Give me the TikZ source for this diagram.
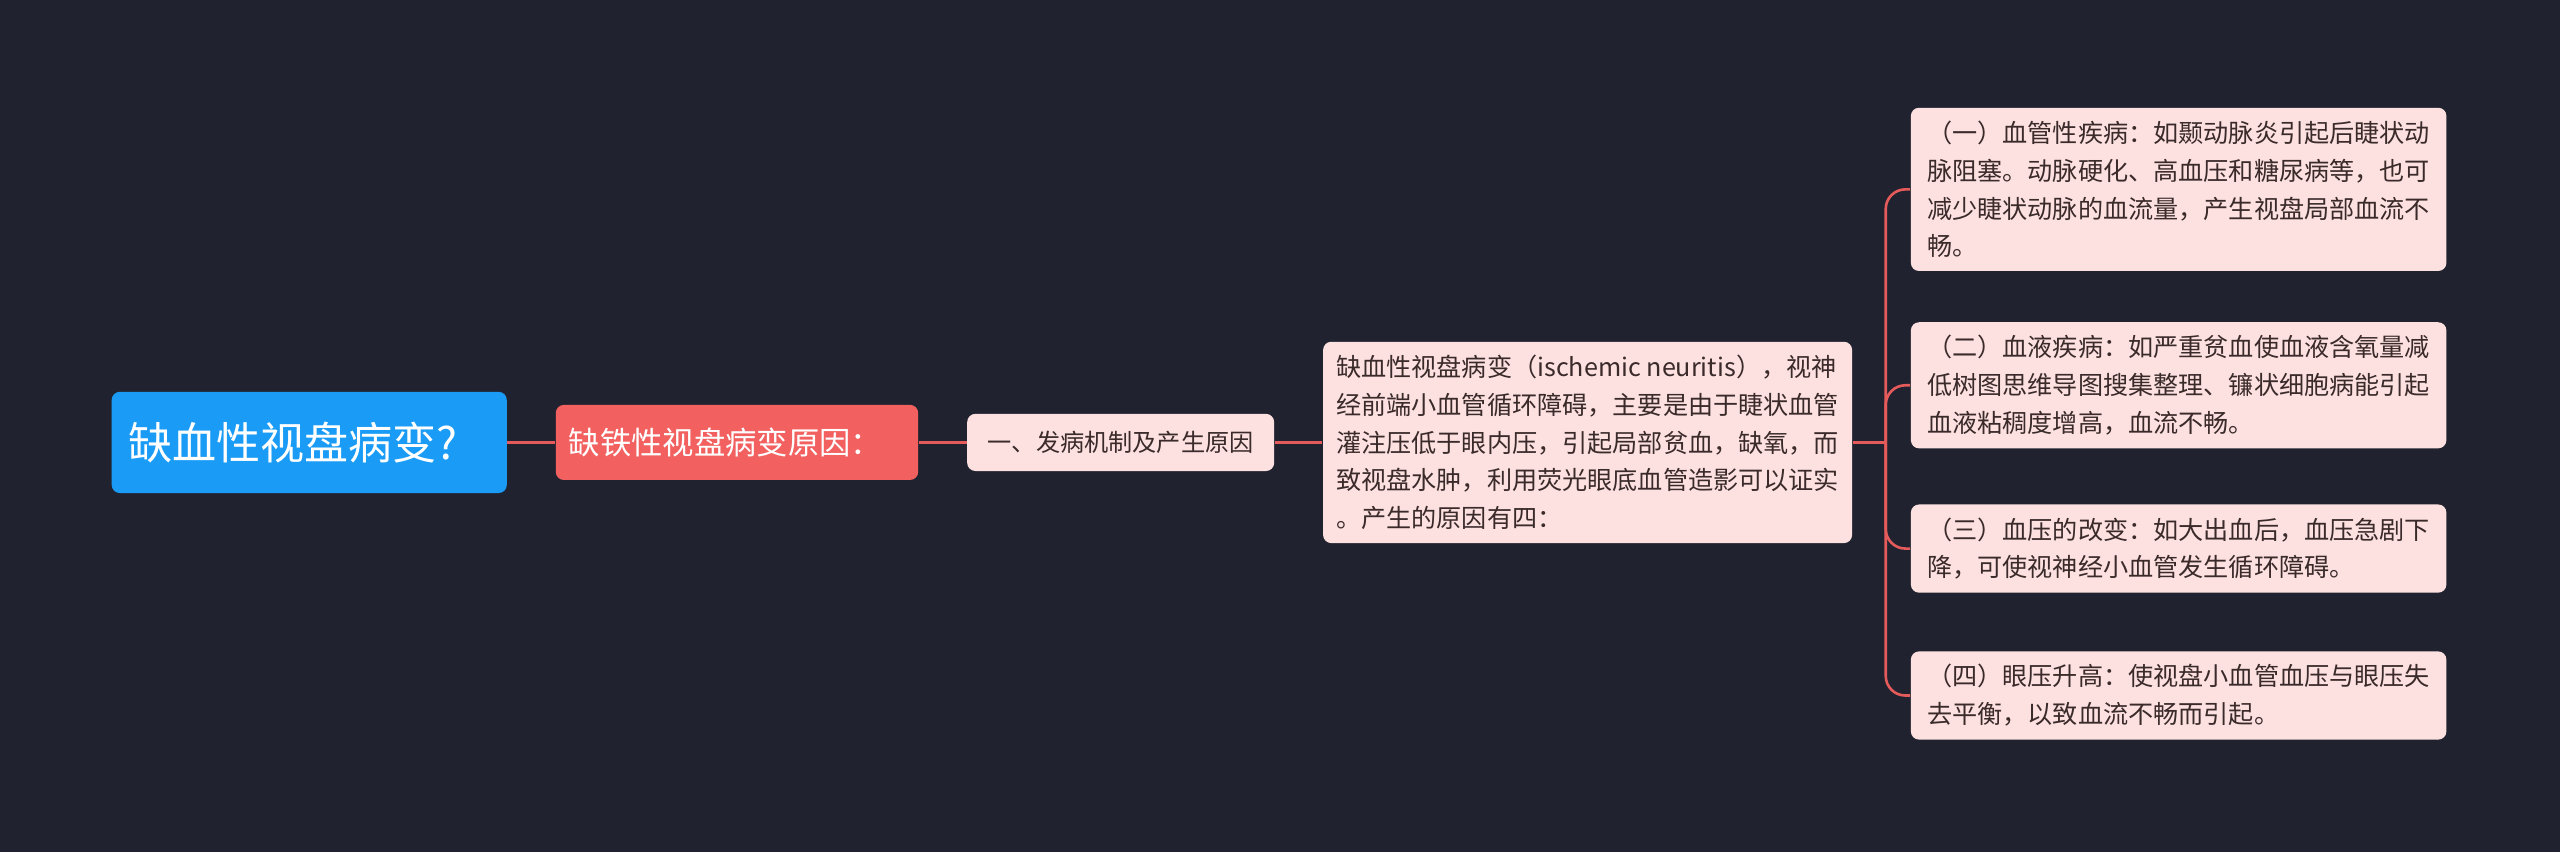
\documentclass[tikz,border=0pt]{standalone}
\usepackage{fontspec}
\setmainfont{Noto Sans CJK SC}
\definecolor{bgdark}{HTML}{20232F}
\definecolor{rootblue}{HTML}{1A9BF5}
\definecolor{mainred}{HTML}{F26060}
\definecolor{leafpink}{HTML}{FDE1E1}
\definecolor{linkred}{HTML}{E55A5A}
\definecolor{leaftext}{HTML}{3A2A2A}
\tikzset{
  box/.style={rounded corners=2.5pt, inner sep=0pt, anchor=west},
  leaf/.style={box, fill=leafpink, text=leaftext, font=\fontsize{7.7}{11.6}\selectfont, align=left, inner xsep=5pt, inner ysep=4pt},
  link/.style={draw=linkred, line width=0.8pt}
}
\begin{document}
\begin{tikzpicture}[x=0.5pt, y=-0.5pt]
  \fill[bgdark] (0,0) rectangle (1568,522);
  \useasboundingbox (0,0) rectangle (1568,522);

  % main chain
  \node[box, fill=rootblue, text=white, font=\fontsize{13.5}{16}\selectfont, minimum width=121pt, minimum height=31pt, align=left, text width=111pt, inner xsep=5pt] (root) at (68,271) {缺血性视盘病变?};
  \node[box, fill=mainred, text=white, font=\fontsize{9.6}{12}\selectfont, minimum width=111pt, minimum height=23pt, text width=103pt, align=left, inner xsep=4pt] (cause) at (340,271) {缺铁性视盘病变原因：};
  \node[leaf, font=\fontsize{7.4}{11.6}\selectfont, minimum width=94pt, minimum height=17.5pt, inner xsep=4pt] (mech) at (592,271) {一、发病机制及产生原因};
  \node[leaf, inner xsep=4pt] (intro) at (810,271) {缺血性视盘病变（ischemic neuritis），视神\\经前端小血管循环障碍，主要是由于睫状血管\\灌注压低于眼内压，引起局部贫血，缺氧，而\\致视盘水肿，利用荧光眼底血管造影可以证实\\。产生的原因有四：};

  % leaves
  \node[leaf] (vessel) at (1170,116) {（一）血管性疾病：如颞动脉炎引起后睫状动\\脉阻塞。动脉硬化、高血压和糖尿病等，也可\\减少睫状动脉的血流量，产生视盘局部血流不\\畅。};
  \node[leaf] (blood) at (1170,236) {（二）血液疾病：如严重贫血使血液含氧量减\\低树图思维导图搜集整理、镰状细胞病能引起\\血液粘稠度增高，血流不畅。};
  \node[leaf] (press) at (1170,336) {（三）血压的改变：如大出血后，血压急剧下\\降，可使视神经小血管发生循环障碍。};
  \node[leaf] (eye) at (1170,426) {（四）眼压升高：使视盘小血管血压与眼压失\\去平衡，以致血流不畅而引起。};

  % connectors
  \draw[link] (root.east) -- (cause.west);
  \draw[link] (cause.east) -- (mech.west);
  \draw[link] (mech.east) -- (intro.west);
  \coordinate (fork) at (1155,271);
  \draw[link] (intro.east) -- (fork);
  \foreach \leafname in {vessel,blood,press,eye}
    \draw[link, rounded corners=6pt] (fork) |- (\leafname.west);
\end{tikzpicture}
\end{document}
